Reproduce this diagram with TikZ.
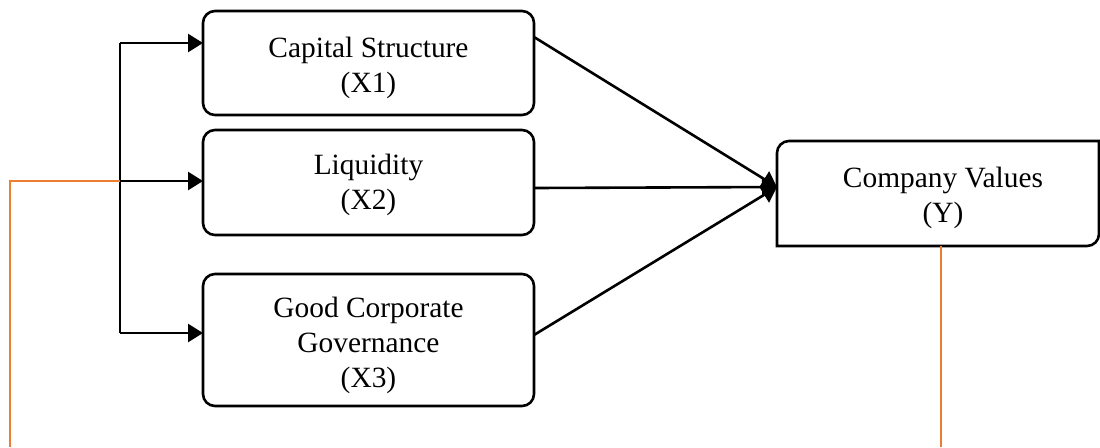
\documentclass[tikz,border=0pt]{standalone}
\usepackage{fontspec}
\setmainfont{Liberation Serif}
\usetikzlibrary{arrows.meta}
\definecolor{linkorange}{HTML}{ED7D31}
\begin{document}
\begin{tikzpicture}[x=0.5pt,y=-0.5pt,
  varbox/.style={draw, line width=1.3pt, rounded corners=6pt, inner sep=0pt, outer sep=0pt,
    minimum width=165.5pt},
  vartext/.style={inner sep=0pt, align=center, font=\fontsize{14.7}{17.5}\selectfont},
  flow/.style={line width=1.3pt, -{Triangle[length=7.5pt,width=9pt]}},
  bracket/.style={line width=1.3pt},
  feed/.style={draw=linkorange, line width=0.9pt}]
\useasboundingbox (0,0) rectangle (1100,447);

% independent variables
\node[varbox, minimum height=52pt] (X1) at (368.5,63) {};
\node[varbox, minimum height=52.5pt] (X2) at (368.5,182.5) {};
\node[varbox, minimum height=66pt] (X3) at (368.5,340) {};
\node[vartext] (X1t) at ([yshift=-2.5pt]X1.center) {Capital Structure\\(X1)};
\node[vartext] (X2t) at ([yshift=-1pt]X2.center) {Liquidity\\(X2)};
\node[vartext] (X3t) at ([yshift=-2.5pt]X3.center) {Good Corporate\\Governance\\(X3)};

% dependent variable: only two corners rounded
\node[inner sep=0pt, outer sep=0pt, minimum width=161pt, minimum height=52.5pt] (Y) at (938,193.5) {};
\node[vartext] (Yt) at ([xshift=2.5pt,yshift=-2pt]Y.center) {Company Values\\(Y)};
\draw[line width=1.3pt]
  (Y.south west) -- ([yshift=-6pt]Y.north west)
  arc[start angle=180, end angle=90, radius=6pt]
  -- (Y.north east) -- ([yshift=6pt]Y.south east)
  arc[start angle=0, end angle=-90, radius=6pt] -- cycle;

% left bracket feeding the three boxes
\coordinate (bt) at (120,43);
\coordinate (bm) at (120,181);
\coordinate (bb) at (120,333);
\draw[bracket] (bt) -- (bb);
\draw[flow] (bt) -- (bt -| X1.west);
\draw[flow] (bm) -- (bm -| X2.west);
\draw[flow] (bb) -- (bb -| X3.west);

% paths into company values
\coordinate (yin) at ([yshift=3.25pt]Y.west);
\draw[flow] ([yshift=13pt]X1.east) -- (yin);
\draw[flow] ([yshift=-2.75pt]X2.east) -- (yin);
\draw[flow] ([yshift=2.5pt]X3.east) -- (yin);

% orange links
\coordinate (oleft) at (10,447);
\coordinate (oright) at (941,447);
\draw[feed] (bm) -- (bm -| oleft) -- (oleft);
\draw[feed] (oright |- Y.south) -- (oright);
\end{tikzpicture}
\end{document}
